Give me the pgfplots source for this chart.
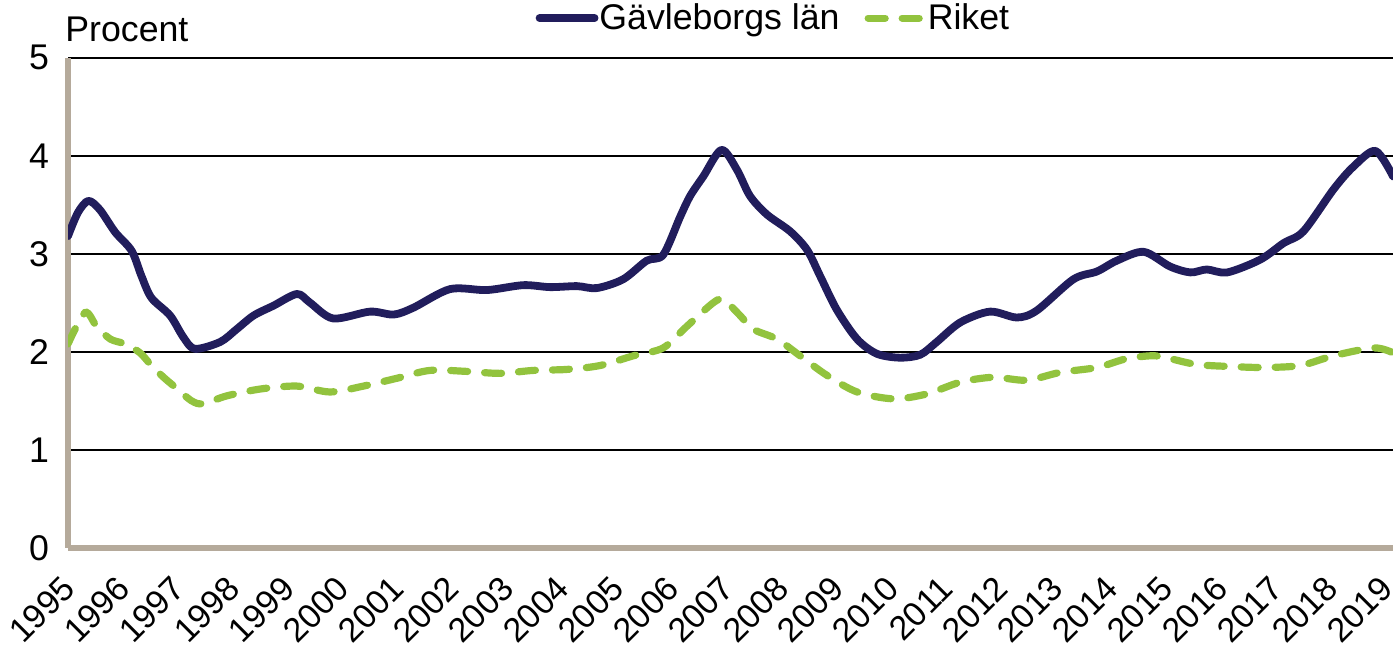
\documentclass[border=0pt]{standalone}
\usepackage{pgfplots}
\pgfplotsset{compat=1.18}
\usepackage{fontspec}
\setmainfont{Liberation Sans}
\definecolor{navy}{RGB}{33,29,92}
\definecolor{lgreen}{RGB}{146,195,62}
\definecolor{tanax}{RGB}{181,170,155}
\newcommand{\chartfont}{\fontsize{17.85bp}{21bp}\selectfont}
\newcommand{\xfont}{\fontsize{17bp}{20bp}\selectfont}
\begin{document}
\begin{tikzpicture}
\begin{axis}[
  name=ax,
  at={(0,0)}, anchor=south west,
  scale only axis, width=662.5bp, height=245bp,
  xmin=1995, xmax=2019.13, ymin=0, ymax=5,
  axis lines*=left,
  axis line style={draw=tanax, line width=3bp},
  xtick={1995,...,2019}, ytick={0,...,5},
  major tick length=0pt,
  ymajorgrids, grid style={black, line width=1bp},
  /pgf/number format/1000 sep={},
  /pgf/number format/assume math mode=true,
  yticklabel style={font=\chartfont, anchor=east, xshift=-6bp},
  xticklabel style={font=\xfont, inner sep=0pt, yshift=-17.3bp, xshift=0.4bp, rotate=45, anchor=east},
  legend style={draw=none, fill=none, at={(0.532,1.081)}, anchor=center,
    font=\chartfont, nodes={inner sep=0.5bp},
    /tikz/every even column/.append style={column sep=12bp}},
  legend columns=2,
  legend image code/.code={\draw[#1] (0bp,0bp) -- (27.5bp,0bp);},
]
\addplot[navy, line width=3.9bp, smooth, tension=0.5, line join=round, line cap=round] coordinates {
(1995.00,3.18) (1995.18,3.42) (1995.37,3.54) (1995.58,3.45) (1995.86,3.22)
(1996.16,3.03) (1996.34,2.77) (1996.52,2.55) (1996.86,2.37) (1997.10,2.15)
(1997.31,2.03) (1997.77,2.10) (1998.07,2.23) (1998.38,2.37) (1998.74,2.47)
(1999.17,2.59) (1999.41,2.50) (1999.83,2.34) (2000.50,2.41) (2000.93,2.38)
(2001.29,2.45) (2001.96,2.64) (2002.63,2.63) (2003.29,2.68) (2003.78,2.66)
(2004.27,2.67) (2004.63,2.65) (2005.11,2.74) (2005.54,2.93) (2005.84,2.99)
(2006.15,3.38) (2006.33,3.59) (2006.57,3.79) (2006.90,4.06) (2007.18,3.86)
(2007.42,3.59) (2007.73,3.40) (2008.15,3.23) (2008.46,3.04) (2008.70,2.77)
(2009.00,2.43) (2009.37,2.13) (2009.73,1.98) (2010.15,1.94) (2010.52,1.97)
(2010.82,2.10) (2011.25,2.30) (2011.79,2.41) (2012.28,2.35) (2012.64,2.42)
(2013.31,2.74) (2013.74,2.82) (2014.10,2.93) (2014.59,3.02) (2015.07,2.87)
(2015.44,2.81) (2015.74,2.84) (2016.11,2.81) (2016.71,2.94) (2017.14,3.11)
(2017.50,3.23) (2018.05,3.66) (2018.41,3.89) (2018.81,4.05) (2019.13,3.79)
};
\addlegendentry{Gävleborgs län}
\addplot[lgreen, line width=3.6bp, smooth, tension=0.5, line cap=round, dash pattern=on 8.5bp off 8.5bp] coordinates {
(1995.00,2.08) (1995.31,2.40) (1995.52,2.26) (1995.77,2.13) (1996.04,2.08)
(1996.31,1.99) (1996.52,1.86) (1996.74,1.74) (1996.95,1.64) (1997.25,1.50)
(1997.46,1.47) (1997.89,1.55) (1998.50,1.62) (1999.17,1.65) (1999.77,1.59)
(2000.38,1.65) (2000.99,1.73) (2001.59,1.81) (2002.26,1.80) (2002.87,1.78)
(2003.47,1.81) (2004.08,1.82) (2004.69,1.86) (2005.30,1.96) (2005.84,2.04)
(2006.27,2.26) (2006.75,2.50) (2006.94,2.53) (2007.24,2.37) (2007.48,2.23)
(2007.91,2.13) (2008.33,1.96) (2008.82,1.76) (2009.37,1.59) (2010.03,1.52)
(2010.64,1.57) (2011.25,1.69) (2011.85,1.74) (2012.46,1.71) (2013.07,1.79)
(2013.74,1.84) (2014.28,1.93) (2014.77,1.96) (2015.07,1.93) (2015.56,1.87)
(2016.17,1.85) (2016.77,1.84) (2017.44,1.86) (2018.05,1.96) (2018.78,2.04)
(2019.13,1.99)
};
\addlegendentry{Riket}
\end{axis}
\node[anchor=base west, font=\chartfont, inner sep=0pt] at ([xshift=-1.5bp, yshift=7.9bp]ax.north west) {Procent};
\pgfresetboundingbox
\path (-34bp,-52.2bp) rectangle (662.5bp,273.9bp);
\end{tikzpicture}
\end{document}
